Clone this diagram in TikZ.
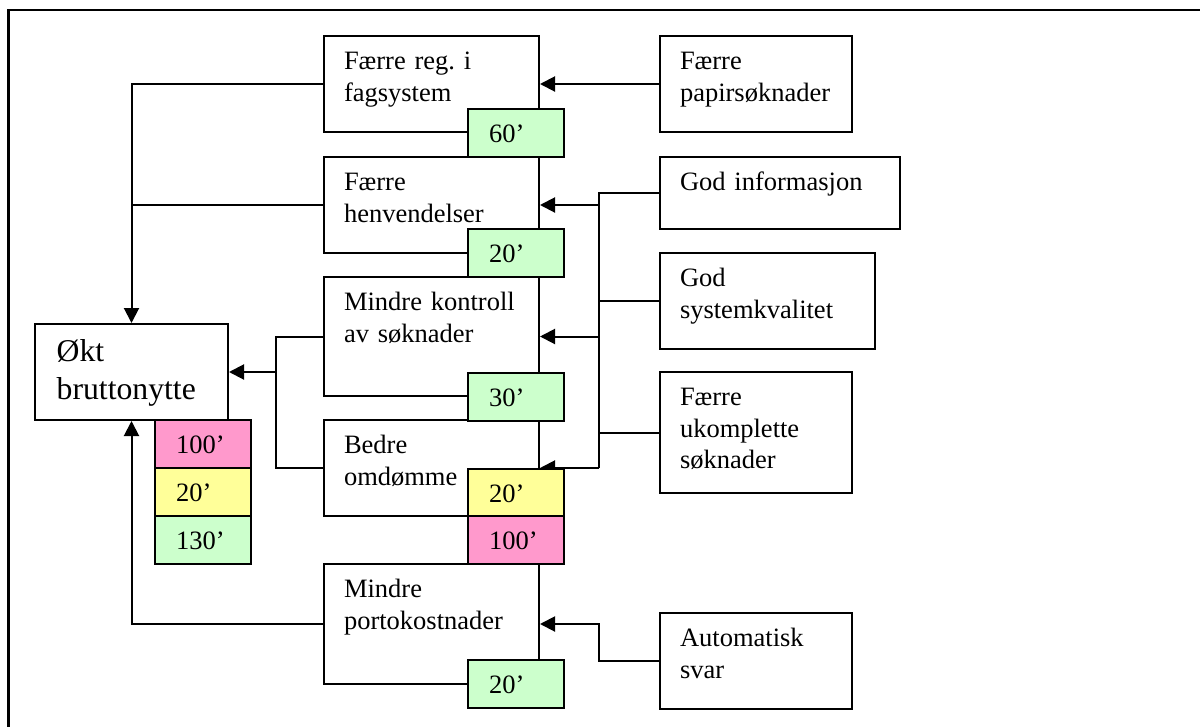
\documentclass[tikz,border=0pt]{standalone}
\usepackage{fontspec}
\setmainfont{Liberation Serif}
\usepackage{xcolor}
\usepackage{tikz}
\usetikzlibrary{arrows.meta}
\usetikzlibrary{positioning,calc}

\definecolor{tgreen}{RGB}{204,255,204}
\definecolor{tyellow}{RGB}{255,255,153}
\definecolor{tpink}{RGB}{255,153,204}

\tikzset{
  box/.style={rectangle,draw,fill=white,line width=2pt,inner sep=0pt,anchor=north west,minimum width=215pt,minimum height=96pt},
  tag/.style={box,minimum width=96pt,minimum height=48pt},
  txt/.style={anchor=base west,inner sep=0pt,text width=190pt,align=left,font=\fontsize{26.5}{31.7}\selectfont},
  arr/.style={-{Triangle[length=15pt,width=15pt]}},
}

\begin{document}
\begin{tikzpicture}[x=1pt,y=-1pt,line width=2pt]
  \useasboundingbox (0,0) rectangle (1200,726);
  \draw[line width=2.2pt] (8.5,740) -- (8.5,10) -- (1210,10);
  % middle column
  \node[box] (reg) at (323,35) {};
  \node[box] (hen) at (323,156) {};
  \node[box,minimum height=119pt] (kon) at (323,276) {};
  \node[box] (bed) at (323,419) {};
  \node[box,minimum height=120pt] (por) at (323,563) {};
  % left
  \node[box,minimum width=193pt] (okt) at (34,323) {};
  % right column
  \node[box,minimum width=192pt] (pap) at (659,35) {};
  \node[box,minimum width=240pt,minimum height=72pt] (inf) at (659,156) {};
  \node[box] (sys) at (659,252) {};
  \node[box,minimum width=192pt,minimum height=121pt] (ukp) at (659,371) {};
  \node[box,minimum width=192pt] (aut) at (659,612) {};
  \foreach \b/\t in {reg/{Færre reg.\ i\\fagsystem},hen/{Færre\\henvendelser},
      kon/{Mindre kontroll\\av søknader},bed/{Bedre\\omdømme},por/{Mindre\\portokostnader},
      pap/{Færre\\papirsøknader},inf/{God informasjon},sys/{God\\systemkvalitet},
      ukp/{Færre\\ukomplette\\søknader},aut/{Automatisk\\svar}}
    \node[txt] (\b-t) at ([shift={(20,34.5)}]\b.north west) {\t};
  \node[txt,font=\fontsize{31.7}{37.8}\selectfont] (okt-t) at ([shift={(21.7,38.4)}]okt.north west) {Økt\\bruttonytte};

  % connectors
  \draw[arr] (reg.west) -| (okt.north);
  \draw (hen.west) -- (hen.west -| okt.north);
  \draw[arr] (por.west) -| (okt.south);
  \coordinate (jl) at ($(okt.east)+(47,0)$);
  \draw (kon.west) -| (jl) |- (bed.west);
  \draw[arr] (jl) -- (okt.east);
  \draw[arr] (pap.west) -- (reg.east);
  \coordinate (bus) at ($(inf.west)+(-60,0)$);
  \draw (inf.west) -- (bus) -- (bus |- bed.east);
  \draw (sys.west) -- (sys.west -| bus);
  \draw (ukp.west) -- (ukp.west -| bus);
  \foreach \b in {hen,kon,bed}
    \draw[arr] (\b.east -| bus) -- (\b.east);
  \draw[arr] (aut.west) -| (bus |- por.east) -- (por.east);

  % time tags
  \foreach \n/\x/\y/\c/\v in {g60/467/108/tgreen/60,g20/467/228/tgreen/20,g30/467/372/tgreen/30,
      y20/467/468/tyellow/20,p100/467/515/tpink/100,g20b/467/659/tgreen/20,
      p100l/154/419/tpink/100,y20l/154/467/tyellow/20,g130l/154/515/tgreen/130}{
    \node[tag,fill=\c] (\n) at (\x,\y) {};
    \node[txt,text width=70pt] (\n-t) at ([shift={(21,34.5)}]\n.north west) {\v’};
  }
\end{tikzpicture}
\end{document}
